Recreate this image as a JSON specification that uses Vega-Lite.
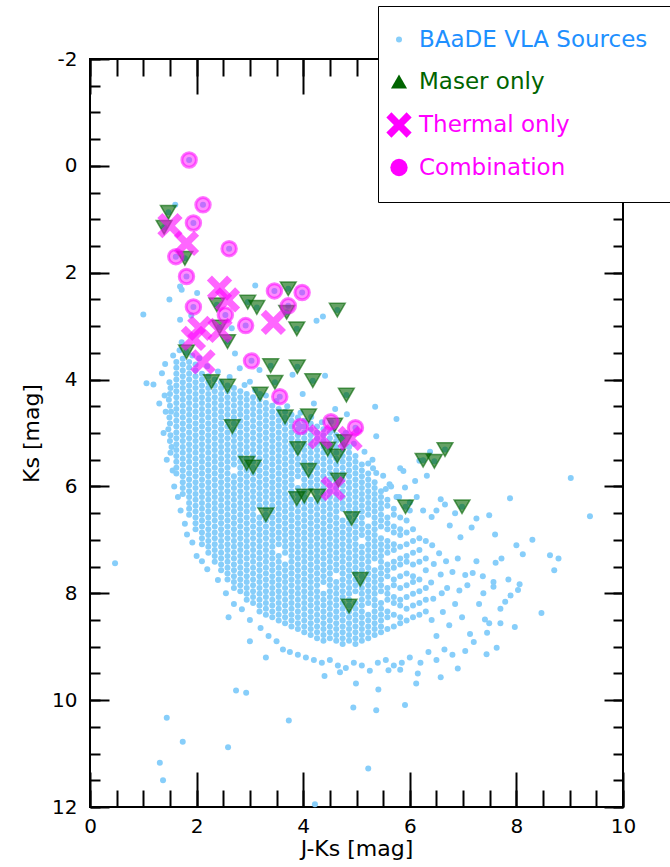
{
"$schema": "https://vega.github.io/schema/vega-lite/v6.json",
"width": 533,
"height": 748,
"autosize": "none",
"padding": {"left": 90, "top": 59, "right": 47, "bottom": 60},
"config": {
"view": {"stroke": "black", "strokeWidth": 2},
"axis": {"labelFont": "DejaVu Sans", "labelFontSize": 20, "labelColor": "black", "titleFont": "DejaVu Sans", "titleFontSize": 22, "titleFontWeight": "normal", "titleColor": "black", "tickColor": "black", "tickWidth": 2, "grid": false, "domain": false}
},
"datasets": {
"src": [
{"x":1.49,"y":4.05},{"x":1.51,"y":4.16},{"x":1.5,"y":4.27},{"x":1.48,"y":4.38},{"x":1.5,"y":4.49},{"x":1.52,"y":4.6},{"x":1.49,"y":4.71},{"x":1.5,"y":4.82},{"x":1.47,"y":4.93},{"x":1.51,"y":5.04},{"x":1.5,"y":5.15},{"x":1.53,"y":5.26},{"x":1.51,"y":5.37},
{"x":1.62,"y":3.67},{"x":1.62,"y":3.78},{"x":1.62,"y":3.89},{"x":1.62,"y":4},{"x":1.62,"y":4.11},{"x":1.62,"y":4.22},{"x":1.62,"y":4.33},{"x":1.62,"y":4.44},{"x":1.62,"y":4.55},{"x":1.62,"y":4.66},{"x":1.62,"y":4.77},{"x":1.62,"y":4.88},{"x":1.62,"y":4.99},{"x":1.62,"y":5.1},{"x":1.62,"y":5.21},{"x":1.62,"y":5.32},{"x":1.62,"y":5.43},{"x":1.62,"y":5.54},{"x":1.62,"y":5.65},{"x":1.62,"y":5.76},
{"x":1.74,"y":3.61},{"x":1.74,"y":3.72},{"x":1.74,"y":3.83},{"x":1.74,"y":3.94},{"x":1.74,"y":4.05},{"x":1.74,"y":4.16},{"x":1.74,"y":4.27},{"x":1.74,"y":4.38},{"x":1.74,"y":4.49},{"x":1.74,"y":4.6},{"x":1.74,"y":4.71},{"x":1.74,"y":4.82},{"x":1.74,"y":4.93},{"x":1.74,"y":5.04},{"x":1.74,"y":5.15},{"x":1.74,"y":5.26},{"x":1.74,"y":5.37},{"x":1.74,"y":5.48},{"x":1.74,"y":5.59},{"x":1.74,"y":5.7},{"x":1.74,"y":5.81},{"x":1.74,"y":5.92},{"x":1.74,"y":6.03},{"x":1.74,"y":6.14},
{"x":1.86,"y":3.67},{"x":1.86,"y":3.78},{"x":1.86,"y":3.89},{"x":1.86,"y":4},{"x":1.86,"y":4.11},{"x":1.86,"y":4.22},{"x":1.86,"y":4.33},{"x":1.86,"y":4.44},{"x":1.86,"y":4.55},{"x":1.86,"y":4.66},{"x":1.86,"y":4.77},{"x":1.86,"y":4.88},{"x":1.86,"y":4.99},{"x":1.86,"y":5.1},{"x":1.86,"y":5.21},{"x":1.86,"y":5.32},{"x":1.86,"y":5.43},{"x":1.86,"y":5.54},{"x":1.86,"y":5.65},{"x":1.86,"y":5.76},{"x":1.86,"y":5.87},{"x":1.86,"y":5.98},{"x":1.86,"y":6.09},{"x":1.86,"y":6.2},{"x":1.86,"y":6.31},{"x":1.86,"y":6.42},{"x":1.86,"y":6.53},
{"x":1.98,"y":3.72},{"x":1.98,"y":3.83},{"x":1.98,"y":3.94},{"x":1.98,"y":4.05},{"x":1.98,"y":4.16},{"x":1.98,"y":4.27},{"x":1.98,"y":4.38},{"x":1.98,"y":4.49},{"x":1.98,"y":4.6},{"x":1.98,"y":4.71},{"x":1.98,"y":4.82},{"x":1.98,"y":4.93},{"x":1.98,"y":5.04},{"x":1.98,"y":5.15},{"x":1.98,"y":5.26},{"x":1.98,"y":5.37},{"x":1.98,"y":5.48},{"x":1.98,"y":5.59},{"x":1.98,"y":5.7},{"x":1.98,"y":5.81},{"x":1.98,"y":5.92},{"x":1.98,"y":6.03},{"x":1.98,"y":6.14},{"x":1.98,"y":6.25},{"x":1.98,"y":6.36},{"x":1.98,"y":6.47},{"x":1.98,"y":6.58},{"x":1.98,"y":6.69},{"x":1.98,"y":6.8},
{"x":2.1,"y":3.89},{"x":2.1,"y":4},{"x":2.1,"y":4.11},{"x":2.1,"y":4.22},{"x":2.1,"y":4.33},{"x":2.1,"y":4.44},{"x":2.1,"y":4.55},{"x":2.1,"y":4.66},{"x":2.1,"y":4.77},{"x":2.1,"y":4.88},{"x":2.1,"y":4.99},{"x":2.1,"y":5.1},{"x":2.1,"y":5.21},{"x":2.1,"y":5.32},{"x":2.1,"y":5.43},{"x":2.1,"y":5.54},{"x":2.1,"y":5.65},{"x":2.1,"y":5.76},{"x":2.1,"y":5.87},{"x":2.1,"y":5.98},{"x":2.1,"y":6.09},{"x":2.1,"y":6.2},{"x":2.1,"y":6.31},{"x":2.1,"y":6.42},{"x":2.1,"y":6.53},{"x":2.1,"y":6.64},{"x":2.1,"y":6.75},{"x":2.1,"y":6.86},{"x":2.1,"y":6.97},{"x":2.1,"y":7.08},
{"x":2.22,"y":3.94},{"x":2.22,"y":4.05},{"x":2.22,"y":4.16},{"x":2.22,"y":4.27},{"x":2.22,"y":4.38},{"x":2.22,"y":4.49},{"x":2.22,"y":4.6},{"x":2.22,"y":4.71},{"x":2.22,"y":4.82},{"x":2.22,"y":4.93},{"x":2.22,"y":5.04},{"x":2.22,"y":5.15},{"x":2.22,"y":5.26},{"x":2.22,"y":5.37},{"x":2.22,"y":5.48},{"x":2.22,"y":5.59},{"x":2.22,"y":5.7},{"x":2.22,"y":5.81},{"x":2.22,"y":5.92},{"x":2.22,"y":6.03},{"x":2.22,"y":6.14},{"x":2.22,"y":6.25},{"x":2.22,"y":6.36},{"x":2.22,"y":6.47},{"x":2.22,"y":6.58},{"x":2.22,"y":6.69},{"x":2.22,"y":6.8},{"x":2.22,"y":6.91},{"x":2.22,"y":7.02},{"x":2.22,"y":7.13},{"x":2.22,"y":7.24},
{"x":2.34,"y":4},{"x":2.34,"y":4.11},{"x":2.34,"y":4.22},{"x":2.34,"y":4.33},{"x":2.34,"y":4.44},{"x":2.34,"y":4.55},{"x":2.34,"y":4.66},{"x":2.34,"y":4.77},{"x":2.34,"y":4.88},{"x":2.34,"y":4.99},{"x":2.34,"y":5.1},{"x":2.34,"y":5.21},{"x":2.34,"y":5.32},{"x":2.34,"y":5.43},{"x":2.34,"y":5.54},{"x":2.34,"y":5.65},{"x":2.34,"y":5.76},{"x":2.34,"y":5.87},{"x":2.34,"y":5.98},{"x":2.34,"y":6.09},{"x":2.34,"y":6.2},{"x":2.34,"y":6.31},{"x":2.34,"y":6.42},{"x":2.34,"y":6.53},{"x":2.34,"y":6.64},{"x":2.34,"y":6.75},{"x":2.34,"y":6.86},{"x":2.34,"y":6.97},{"x":2.34,"y":7.08},{"x":2.34,"y":7.19},{"x":2.34,"y":7.3},{"x":2.34,"y":7.41},
{"x":2.46,"y":4.05},{"x":2.46,"y":4.16},{"x":2.46,"y":4.27},{"x":2.46,"y":4.38},{"x":2.46,"y":4.49},{"x":2.46,"y":4.6},{"x":2.46,"y":4.71},{"x":2.46,"y":4.82},{"x":2.46,"y":4.93},{"x":2.46,"y":5.04},{"x":2.46,"y":5.15},{"x":2.46,"y":5.26},{"x":2.46,"y":5.37},{"x":2.46,"y":5.48},{"x":2.46,"y":5.59},{"x":2.46,"y":5.7},{"x":2.46,"y":5.81},{"x":2.46,"y":5.92},{"x":2.46,"y":6.03},{"x":2.46,"y":6.14},{"x":2.46,"y":6.25},{"x":2.46,"y":6.36},{"x":2.46,"y":6.47},{"x":2.46,"y":6.58},{"x":2.46,"y":6.69},{"x":2.46,"y":6.8},{"x":2.46,"y":6.91},{"x":2.46,"y":7.02},{"x":2.46,"y":7.13},{"x":2.46,"y":7.24},{"x":2.46,"y":7.35},{"x":2.46,"y":7.46},{"x":2.46,"y":7.57},
{"x":2.58,"y":4.11},{"x":2.58,"y":4.22},{"x":2.58,"y":4.33},{"x":2.58,"y":4.44},{"x":2.58,"y":4.55},{"x":2.58,"y":4.66},{"x":2.58,"y":4.77},{"x":2.58,"y":4.88},{"x":2.58,"y":4.99},{"x":2.58,"y":5.1},{"x":2.58,"y":5.21},{"x":2.58,"y":5.32},{"x":2.58,"y":5.43},{"x":2.58,"y":5.54},{"x":2.58,"y":5.65},{"x":2.58,"y":5.76},{"x":2.58,"y":5.87},{"x":2.58,"y":5.98},{"x":2.58,"y":6.09},{"x":2.58,"y":6.2},{"x":2.58,"y":6.31},{"x":2.58,"y":6.42},{"x":2.58,"y":6.53},{"x":2.58,"y":6.64},{"x":2.58,"y":6.75},{"x":2.58,"y":6.86},{"x":2.58,"y":6.97},{"x":2.58,"y":7.08},{"x":2.58,"y":7.19},{"x":2.58,"y":7.3},{"x":2.58,"y":7.41},{"x":2.58,"y":7.52},{"x":2.58,"y":7.63},{"x":2.58,"y":7.74},
{"x":2.7,"y":4.16},{"x":2.7,"y":4.27},{"x":2.7,"y":4.38},{"x":2.7,"y":4.49},{"x":2.7,"y":4.6},{"x":2.7,"y":4.71},{"x":2.7,"y":4.82},{"x":2.7,"y":4.93},{"x":2.7,"y":5.04},{"x":2.7,"y":5.15},{"x":2.7,"y":5.26},{"x":2.7,"y":5.37},{"x":2.7,"y":5.48},{"x":2.7,"y":5.59},{"x":2.7,"y":5.81},{"x":2.7,"y":5.92},{"x":2.7,"y":6.03},{"x":2.7,"y":6.14},{"x":2.7,"y":6.25},{"x":2.7,"y":6.36},{"x":2.7,"y":6.47},{"x":2.7,"y":6.58},{"x":2.7,"y":6.69},{"x":2.7,"y":6.8},{"x":2.7,"y":6.91},{"x":2.7,"y":7.02},{"x":2.7,"y":7.13},{"x":2.7,"y":7.24},{"x":2.7,"y":7.35},{"x":2.7,"y":7.46},{"x":2.7,"y":7.57},{"x":2.7,"y":7.68},{"x":2.7,"y":7.79},{"x":2.7,"y":7.9},
{"x":2.82,"y":4.22},{"x":2.82,"y":4.33},{"x":2.82,"y":4.44},{"x":2.82,"y":4.55},{"x":2.82,"y":4.66},{"x":2.82,"y":4.77},{"x":2.82,"y":4.88},{"x":2.82,"y":4.99},{"x":2.82,"y":5.1},{"x":2.82,"y":5.21},{"x":2.82,"y":5.32},{"x":2.82,"y":5.43},{"x":2.82,"y":5.54},{"x":2.82,"y":5.65},{"x":2.82,"y":5.76},{"x":2.82,"y":5.87},{"x":2.82,"y":5.98},{"x":2.82,"y":6.09},{"x":2.82,"y":6.2},{"x":2.82,"y":6.31},{"x":2.82,"y":6.42},{"x":2.82,"y":6.53},{"x":2.82,"y":6.64},{"x":2.82,"y":6.75},{"x":2.82,"y":6.86},{"x":2.82,"y":6.97},{"x":2.82,"y":7.08},{"x":2.82,"y":7.19},{"x":2.82,"y":7.3},{"x":2.82,"y":7.41},{"x":2.82,"y":7.52},{"x":2.82,"y":7.63},{"x":2.82,"y":7.74},{"x":2.82,"y":7.85},{"x":2.82,"y":7.96},
{"x":2.94,"y":4.27},{"x":2.94,"y":4.38},{"x":2.94,"y":4.49},{"x":2.94,"y":4.6},{"x":2.94,"y":4.71},{"x":2.94,"y":4.82},{"x":2.94,"y":4.93},{"x":2.94,"y":5.04},{"x":2.94,"y":5.15},{"x":2.94,"y":5.26},{"x":2.94,"y":5.37},{"x":2.94,"y":5.48},{"x":2.94,"y":5.59},{"x":2.94,"y":5.7},{"x":2.94,"y":5.81},{"x":2.94,"y":5.92},{"x":2.94,"y":6.03},{"x":2.94,"y":6.14},{"x":2.94,"y":6.25},{"x":2.94,"y":6.36},{"x":2.94,"y":6.47},{"x":2.94,"y":6.58},{"x":2.94,"y":6.69},{"x":2.94,"y":6.8},{"x":2.94,"y":6.91},{"x":2.94,"y":7.02},{"x":2.94,"y":7.13},{"x":2.94,"y":7.24},{"x":2.94,"y":7.35},{"x":2.94,"y":7.46},{"x":2.94,"y":7.57},{"x":2.94,"y":7.68},{"x":2.94,"y":7.79},{"x":2.94,"y":7.9},{"x":2.94,"y":8.01},{"x":2.94,"y":8.12},
{"x":3.06,"y":4.33},{"x":3.06,"y":4.44},{"x":3.06,"y":4.55},{"x":3.06,"y":4.66},{"x":3.06,"y":4.77},{"x":3.06,"y":4.88},{"x":3.06,"y":4.99},{"x":3.06,"y":5.1},{"x":3.06,"y":5.21},{"x":3.06,"y":5.32},{"x":3.06,"y":5.43},{"x":3.06,"y":5.54},{"x":3.06,"y":5.65},{"x":3.06,"y":5.76},{"x":3.06,"y":5.87},{"x":3.06,"y":5.98},{"x":3.06,"y":6.09},{"x":3.06,"y":6.2},{"x":3.06,"y":6.31},{"x":3.06,"y":6.42},{"x":3.06,"y":6.53},{"x":3.06,"y":6.64},{"x":3.06,"y":6.75},{"x":3.06,"y":6.86},{"x":3.06,"y":6.97},{"x":3.06,"y":7.08},{"x":3.06,"y":7.19},{"x":3.06,"y":7.3},{"x":3.06,"y":7.41},{"x":3.06,"y":7.52},{"x":3.06,"y":7.63},{"x":3.06,"y":7.74},{"x":3.06,"y":7.85},{"x":3.06,"y":7.96},{"x":3.06,"y":8.07},{"x":3.06,"y":8.18},
{"x":3.18,"y":4.38},{"x":3.18,"y":4.49},{"x":3.18,"y":4.6},{"x":3.18,"y":4.71},{"x":3.18,"y":4.82},{"x":3.18,"y":4.93},{"x":3.18,"y":5.04},{"x":3.18,"y":5.15},{"x":3.18,"y":5.26},{"x":3.18,"y":5.37},{"x":3.18,"y":5.48},{"x":3.18,"y":5.59},{"x":3.18,"y":5.7},{"x":3.18,"y":5.81},{"x":3.18,"y":5.92},{"x":3.18,"y":6.03},{"x":3.18,"y":6.14},{"x":3.18,"y":6.25},{"x":3.18,"y":6.36},{"x":3.18,"y":6.58},{"x":3.18,"y":6.69},{"x":3.18,"y":6.8},{"x":3.18,"y":6.91},{"x":3.18,"y":7.02},{"x":3.18,"y":7.13},{"x":3.18,"y":7.24},{"x":3.18,"y":7.35},{"x":3.18,"y":7.46},{"x":3.18,"y":7.57},{"x":3.18,"y":7.68},{"x":3.18,"y":7.79},{"x":3.18,"y":7.9},{"x":3.18,"y":8.01},{"x":3.18,"y":8.12},{"x":3.18,"y":8.23},{"x":3.18,"y":8.34},
{"x":3.3,"y":4.44},{"x":3.3,"y":4.55},{"x":3.3,"y":4.66},{"x":3.3,"y":4.77},{"x":3.3,"y":4.88},{"x":3.3,"y":4.99},{"x":3.3,"y":5.1},{"x":3.3,"y":5.21},{"x":3.3,"y":5.32},{"x":3.3,"y":5.43},{"x":3.3,"y":5.54},{"x":3.3,"y":5.65},{"x":3.3,"y":5.76},{"x":3.3,"y":5.87},{"x":3.3,"y":5.98},{"x":3.3,"y":6.09},{"x":3.3,"y":6.2},{"x":3.3,"y":6.31},{"x":3.3,"y":6.42},{"x":3.3,"y":6.53},{"x":3.3,"y":6.64},{"x":3.3,"y":6.75},{"x":3.3,"y":6.86},{"x":3.3,"y":6.97},{"x":3.3,"y":7.08},{"x":3.3,"y":7.19},{"x":3.3,"y":7.3},{"x":3.3,"y":7.41},{"x":3.3,"y":7.52},{"x":3.3,"y":7.63},{"x":3.3,"y":7.74},{"x":3.3,"y":7.85},{"x":3.3,"y":7.96},{"x":3.3,"y":8.07},{"x":3.3,"y":8.18},{"x":3.3,"y":8.29},{"x":3.3,"y":8.4},
{"x":3.42,"y":4.49},{"x":3.42,"y":4.6},{"x":3.42,"y":4.71},{"x":3.42,"y":4.82},{"x":3.42,"y":4.93},{"x":3.42,"y":5.04},{"x":3.42,"y":5.15},{"x":3.42,"y":5.26},{"x":3.42,"y":5.37},{"x":3.42,"y":5.48},{"x":3.42,"y":5.59},{"x":3.42,"y":5.7},{"x":3.42,"y":5.81},{"x":3.42,"y":5.92},{"x":3.42,"y":6.03},{"x":3.42,"y":6.14},{"x":3.42,"y":6.25},{"x":3.42,"y":6.36},{"x":3.42,"y":6.47},{"x":3.42,"y":6.58},{"x":3.42,"y":6.69},{"x":3.42,"y":6.8},{"x":3.42,"y":6.91},{"x":3.42,"y":7.02},{"x":3.42,"y":7.13},{"x":3.42,"y":7.24},{"x":3.42,"y":7.35},{"x":3.42,"y":7.46},{"x":3.42,"y":7.57},{"x":3.42,"y":7.68},{"x":3.42,"y":7.79},{"x":3.42,"y":7.9},{"x":3.42,"y":8.01},{"x":3.42,"y":8.12},{"x":3.42,"y":8.23},{"x":3.42,"y":8.34},{"x":3.42,"y":8.45},
{"x":3.54,"y":4.55},{"x":3.54,"y":4.66},{"x":3.54,"y":4.77},{"x":3.54,"y":4.88},{"x":3.54,"y":4.99},{"x":3.54,"y":5.1},{"x":3.54,"y":5.21},{"x":3.54,"y":5.32},{"x":3.54,"y":5.43},{"x":3.54,"y":5.54},{"x":3.54,"y":5.65},{"x":3.54,"y":5.76},{"x":3.54,"y":5.87},{"x":3.54,"y":5.98},{"x":3.54,"y":6.09},{"x":3.54,"y":6.2},{"x":3.54,"y":6.31},{"x":3.54,"y":6.42},{"x":3.54,"y":6.53},{"x":3.54,"y":6.64},{"x":3.54,"y":6.75},{"x":3.54,"y":6.86},{"x":3.54,"y":6.97},{"x":3.54,"y":7.08},{"x":3.54,"y":7.3},{"x":3.54,"y":7.41},{"x":3.54,"y":7.52},{"x":3.54,"y":7.63},{"x":3.54,"y":7.74},{"x":3.54,"y":7.85},{"x":3.54,"y":7.96},{"x":3.54,"y":8.07},{"x":3.54,"y":8.18},{"x":3.54,"y":8.29},{"x":3.54,"y":8.4},{"x":3.54,"y":8.51},
{"x":3.66,"y":4.6},{"x":3.66,"y":4.71},{"x":3.66,"y":4.82},{"x":3.66,"y":4.93},{"x":3.66,"y":5.04},{"x":3.66,"y":5.15},{"x":3.66,"y":5.26},{"x":3.66,"y":5.37},{"x":3.66,"y":5.48},{"x":3.66,"y":5.59},{"x":3.66,"y":5.7},{"x":3.66,"y":5.81},{"x":3.66,"y":5.92},{"x":3.66,"y":6.03},{"x":3.66,"y":6.14},{"x":3.66,"y":6.25},{"x":3.66,"y":6.36},{"x":3.66,"y":6.47},{"x":3.66,"y":6.58},{"x":3.66,"y":6.69},{"x":3.66,"y":6.8},{"x":3.66,"y":6.91},{"x":3.66,"y":7.02},{"x":3.66,"y":7.13},{"x":3.66,"y":7.24},{"x":3.66,"y":7.46},{"x":3.66,"y":7.57},{"x":3.66,"y":7.68},{"x":3.66,"y":7.79},{"x":3.66,"y":7.9},{"x":3.66,"y":8.01},{"x":3.66,"y":8.12},{"x":3.66,"y":8.23},{"x":3.66,"y":8.34},{"x":3.66,"y":8.45},{"x":3.66,"y":8.56},
{"x":3.78,"y":4.66},{"x":3.78,"y":4.77},{"x":3.78,"y":4.88},{"x":3.78,"y":4.99},{"x":3.78,"y":5.1},{"x":3.78,"y":5.21},{"x":3.78,"y":5.32},{"x":3.78,"y":5.43},{"x":3.78,"y":5.54},{"x":3.78,"y":5.65},{"x":3.78,"y":5.76},{"x":3.78,"y":5.87},{"x":3.78,"y":5.98},{"x":3.78,"y":6.09},{"x":3.78,"y":6.2},{"x":3.78,"y":6.31},{"x":3.78,"y":6.42},{"x":3.78,"y":6.53},{"x":3.78,"y":6.64},{"x":3.78,"y":6.75},{"x":3.78,"y":6.86},{"x":3.78,"y":6.97},{"x":3.78,"y":7.08},{"x":3.78,"y":7.19},{"x":3.78,"y":7.3},{"x":3.78,"y":7.41},{"x":3.78,"y":7.52},{"x":3.78,"y":7.63},{"x":3.78,"y":7.74},{"x":3.78,"y":7.85},{"x":3.78,"y":7.96},{"x":3.78,"y":8.07},{"x":3.78,"y":8.18},{"x":3.78,"y":8.29},{"x":3.78,"y":8.4},{"x":3.78,"y":8.51},{"x":3.78,"y":8.62},
{"x":3.9,"y":4.71},{"x":3.9,"y":4.82},{"x":3.9,"y":4.93},{"x":3.9,"y":5.04},{"x":3.9,"y":5.15},{"x":3.9,"y":5.26},{"x":3.9,"y":5.37},{"x":3.9,"y":5.48},{"x":3.9,"y":5.59},{"x":3.9,"y":5.7},{"x":3.9,"y":5.81},{"x":3.9,"y":6.03},{"x":3.9,"y":6.14},{"x":3.9,"y":6.25},{"x":3.9,"y":6.36},{"x":3.9,"y":6.47},{"x":3.9,"y":6.58},{"x":3.9,"y":6.69},{"x":3.9,"y":6.8},{"x":3.9,"y":6.91},{"x":3.9,"y":7.02},{"x":3.9,"y":7.13},{"x":3.9,"y":7.24},{"x":3.9,"y":7.35},{"x":3.9,"y":7.46},{"x":3.9,"y":7.57},{"x":3.9,"y":7.68},{"x":3.9,"y":7.79},{"x":3.9,"y":7.9},{"x":3.9,"y":8.01},{"x":3.9,"y":8.12},{"x":3.9,"y":8.23},{"x":3.9,"y":8.34},{"x":3.9,"y":8.45},{"x":3.9,"y":8.56},{"x":3.9,"y":8.67},
{"x":4.02,"y":4.77},{"x":4.02,"y":4.88},{"x":4.02,"y":4.99},{"x":4.02,"y":5.1},{"x":4.02,"y":5.21},{"x":4.02,"y":5.32},{"x":4.02,"y":5.43},{"x":4.02,"y":5.54},{"x":4.02,"y":5.65},{"x":4.02,"y":5.76},{"x":4.02,"y":5.87},{"x":4.02,"y":5.98},{"x":4.02,"y":6.09},{"x":4.02,"y":6.2},{"x":4.02,"y":6.31},{"x":4.02,"y":6.42},{"x":4.02,"y":6.53},{"x":4.02,"y":6.64},{"x":4.02,"y":6.75},{"x":4.02,"y":6.86},{"x":4.02,"y":6.97},{"x":4.02,"y":7.08},{"x":4.02,"y":7.19},{"x":4.02,"y":7.3},{"x":4.02,"y":7.41},{"x":4.02,"y":7.52},{"x":4.02,"y":7.63},{"x":4.02,"y":7.74},{"x":4.02,"y":7.85},{"x":4.02,"y":7.96},{"x":4.02,"y":8.07},{"x":4.02,"y":8.18},{"x":4.02,"y":8.29},{"x":4.02,"y":8.4},{"x":4.02,"y":8.51},{"x":4.02,"y":8.62},{"x":4.02,"y":8.73},
{"x":4.14,"y":4.82},{"x":4.14,"y":4.93},{"x":4.14,"y":5.04},{"x":4.14,"y":5.15},{"x":4.14,"y":5.26},{"x":4.14,"y":5.37},{"x":4.14,"y":5.48},{"x":4.14,"y":5.59},{"x":4.14,"y":5.7},{"x":4.14,"y":5.81},{"x":4.14,"y":5.92},{"x":4.14,"y":6.03},{"x":4.14,"y":6.25},{"x":4.14,"y":6.36},{"x":4.14,"y":6.47},{"x":4.14,"y":6.58},{"x":4.14,"y":6.69},{"x":4.14,"y":6.8},{"x":4.14,"y":6.91},{"x":4.14,"y":7.02},{"x":4.14,"y":7.13},{"x":4.14,"y":7.24},{"x":4.14,"y":7.35},{"x":4.14,"y":7.46},{"x":4.14,"y":7.57},{"x":4.14,"y":7.68},{"x":4.14,"y":7.79},{"x":4.14,"y":7.9},{"x":4.14,"y":8.01},{"x":4.14,"y":8.12},{"x":4.14,"y":8.23},{"x":4.14,"y":8.34},{"x":4.14,"y":8.45},{"x":4.14,"y":8.56},{"x":4.14,"y":8.67},{"x":4.14,"y":8.78},
{"x":4.26,"y":4.88},{"x":4.26,"y":4.99},{"x":4.26,"y":5.1},{"x":4.26,"y":5.21},{"x":4.26,"y":5.32},{"x":4.26,"y":5.43},{"x":4.26,"y":5.54},{"x":4.26,"y":5.65},{"x":4.26,"y":5.76},{"x":4.26,"y":5.87},{"x":4.26,"y":5.98},{"x":4.26,"y":6.09},{"x":4.26,"y":6.2},{"x":4.26,"y":6.31},{"x":4.26,"y":6.42},{"x":4.26,"y":6.53},{"x":4.26,"y":6.64},{"x":4.26,"y":6.75},{"x":4.26,"y":6.86},{"x":4.26,"y":6.97},{"x":4.26,"y":7.08},{"x":4.26,"y":7.19},{"x":4.26,"y":7.3},{"x":4.26,"y":7.41},{"x":4.26,"y":7.52},{"x":4.26,"y":7.63},{"x":4.26,"y":7.74},{"x":4.26,"y":7.85},{"x":4.26,"y":7.96},{"x":4.26,"y":8.07},{"x":4.26,"y":8.18},{"x":4.26,"y":8.29},{"x":4.26,"y":8.4},{"x":4.26,"y":8.51},{"x":4.26,"y":8.62},{"x":4.26,"y":8.73},{"x":4.26,"y":8.84},
{"x":4.38,"y":4.93},{"x":4.38,"y":5.04},{"x":4.38,"y":5.15},{"x":4.38,"y":5.26},{"x":4.38,"y":5.37},{"x":4.38,"y":5.48},{"x":4.38,"y":5.59},{"x":4.38,"y":5.7},{"x":4.38,"y":5.81},{"x":4.38,"y":5.92},{"x":4.38,"y":6.03},{"x":4.38,"y":6.14},{"x":4.38,"y":6.25},{"x":4.38,"y":6.36},{"x":4.38,"y":6.47},{"x":4.38,"y":6.58},{"x":4.38,"y":6.69},{"x":4.38,"y":6.8},{"x":4.38,"y":6.91},{"x":4.38,"y":7.02},{"x":4.38,"y":7.13},{"x":4.38,"y":7.24},{"x":4.38,"y":7.35},{"x":4.38,"y":7.46},{"x":4.38,"y":7.57},{"x":4.38,"y":7.68},{"x":4.38,"y":7.79},{"x":4.38,"y":8.01},{"x":4.38,"y":8.12},{"x":4.38,"y":8.23},{"x":4.38,"y":8.34},{"x":4.38,"y":8.45},{"x":4.38,"y":8.56},{"x":4.38,"y":8.67},{"x":4.38,"y":8.78},{"x":4.38,"y":8.89},
{"x":4.5,"y":4.99},{"x":4.5,"y":5.1},{"x":4.5,"y":5.21},{"x":4.5,"y":5.32},{"x":4.5,"y":5.43},{"x":4.5,"y":5.54},{"x":4.5,"y":5.65},{"x":4.5,"y":5.76},{"x":4.5,"y":5.87},{"x":4.5,"y":5.98},{"x":4.5,"y":6.09},{"x":4.5,"y":6.2},{"x":4.5,"y":6.31},{"x":4.5,"y":6.42},{"x":4.5,"y":6.53},{"x":4.5,"y":6.64},{"x":4.5,"y":6.75},{"x":4.5,"y":6.86},{"x":4.5,"y":6.97},{"x":4.5,"y":7.08},{"x":4.5,"y":7.19},{"x":4.5,"y":7.3},{"x":4.5,"y":7.41},{"x":4.5,"y":7.52},{"x":4.5,"y":7.63},{"x":4.5,"y":7.74},{"x":4.5,"y":7.85},{"x":4.5,"y":7.96},{"x":4.5,"y":8.07},{"x":4.5,"y":8.18},{"x":4.5,"y":8.29},{"x":4.5,"y":8.4},{"x":4.5,"y":8.51},{"x":4.5,"y":8.62},{"x":4.5,"y":8.73},{"x":4.5,"y":8.84},
{"x":4.62,"y":5.04},{"x":4.62,"y":5.15},{"x":4.62,"y":5.26},{"x":4.62,"y":5.37},{"x":4.62,"y":5.48},{"x":4.62,"y":5.59},{"x":4.62,"y":5.7},{"x":4.62,"y":5.81},{"x":4.62,"y":5.92},{"x":4.62,"y":6.03},{"x":4.62,"y":6.14},{"x":4.62,"y":6.25},{"x":4.62,"y":6.36},{"x":4.62,"y":6.47},{"x":4.62,"y":6.58},{"x":4.62,"y":6.69},{"x":4.62,"y":6.8},{"x":4.62,"y":6.91},{"x":4.62,"y":7.02},{"x":4.62,"y":7.13},{"x":4.62,"y":7.24},{"x":4.62,"y":7.35},{"x":4.62,"y":7.46},{"x":4.62,"y":7.57},{"x":4.62,"y":7.79},{"x":4.62,"y":7.9},{"x":4.62,"y":8.01},{"x":4.62,"y":8.12},{"x":4.62,"y":8.23},{"x":4.62,"y":8.34},{"x":4.62,"y":8.45},{"x":4.62,"y":8.56},{"x":4.62,"y":8.67},{"x":4.62,"y":8.78},{"x":4.62,"y":8.89},
{"x":4.74,"y":5.1},{"x":4.74,"y":5.21},{"x":4.74,"y":5.32},{"x":4.74,"y":5.43},{"x":4.74,"y":5.54},{"x":4.74,"y":5.65},{"x":4.74,"y":5.76},{"x":4.74,"y":5.87},{"x":4.74,"y":5.98},{"x":4.74,"y":6.09},{"x":4.74,"y":6.2},{"x":4.74,"y":6.31},{"x":4.74,"y":6.42},{"x":4.74,"y":6.64},{"x":4.74,"y":6.75},{"x":4.74,"y":6.86},{"x":4.74,"y":6.97},{"x":4.74,"y":7.08},{"x":4.74,"y":7.19},{"x":4.74,"y":7.3},{"x":4.74,"y":7.41},{"x":4.74,"y":7.52},{"x":4.74,"y":7.63},{"x":4.74,"y":7.74},{"x":4.74,"y":7.85},{"x":4.74,"y":7.96},{"x":4.74,"y":8.07},{"x":4.74,"y":8.18},{"x":4.74,"y":8.29},{"x":4.74,"y":8.4},{"x":4.74,"y":8.51},{"x":4.74,"y":8.62},{"x":4.74,"y":8.73},{"x":4.74,"y":8.84},{"x":4.74,"y":8.95},
{"x":4.86,"y":5.26},{"x":4.86,"y":5.37},{"x":4.86,"y":5.48},{"x":4.86,"y":5.59},{"x":4.86,"y":5.7},{"x":4.86,"y":5.81},{"x":4.86,"y":5.92},{"x":4.86,"y":6.03},{"x":4.86,"y":6.14},{"x":4.86,"y":6.25},{"x":4.86,"y":6.36},{"x":4.86,"y":6.47},{"x":4.86,"y":6.58},{"x":4.86,"y":6.69},{"x":4.86,"y":6.8},{"x":4.86,"y":6.91},{"x":4.86,"y":7.02},{"x":4.86,"y":7.13},{"x":4.86,"y":7.24},{"x":4.86,"y":7.35},{"x":4.86,"y":7.46},{"x":4.86,"y":7.57},{"x":4.86,"y":7.68},{"x":4.86,"y":7.79},{"x":4.86,"y":7.9},{"x":4.86,"y":8.01},{"x":4.86,"y":8.12},{"x":4.86,"y":8.23},{"x":4.86,"y":8.34},{"x":4.86,"y":8.45},{"x":4.86,"y":8.56},{"x":4.86,"y":8.67},{"x":4.86,"y":8.78},{"x":4.86,"y":8.89},
{"x":4.98,"y":5.43},{"x":4.98,"y":5.54},{"x":4.98,"y":5.65},{"x":4.98,"y":5.76},{"x":4.98,"y":5.87},{"x":4.98,"y":5.98},{"x":4.98,"y":6.09},{"x":4.98,"y":6.2},{"x":4.98,"y":6.31},{"x":4.98,"y":6.42},{"x":4.98,"y":6.53},{"x":4.98,"y":6.64},{"x":4.98,"y":6.75},{"x":4.98,"y":6.86},{"x":4.98,"y":6.97},{"x":4.98,"y":7.08},{"x":4.98,"y":7.19},{"x":4.98,"y":7.3},{"x":4.98,"y":7.41},{"x":4.98,"y":7.52},{"x":4.98,"y":7.63},{"x":4.98,"y":7.74},{"x":4.98,"y":7.85},{"x":4.98,"y":7.96},{"x":4.98,"y":8.18},{"x":4.98,"y":8.29},{"x":4.98,"y":8.4},{"x":4.98,"y":8.51},{"x":4.98,"y":8.62},{"x":4.98,"y":8.73},{"x":4.98,"y":8.84},{"x":4.98,"y":8.95},
{"x":5.1,"y":5.59},{"x":5.1,"y":5.7},{"x":5.1,"y":5.81},{"x":5.1,"y":5.92},{"x":5.1,"y":6.03},{"x":5.1,"y":6.14},{"x":5.1,"y":6.25},{"x":5.1,"y":6.36},{"x":5.1,"y":6.47},{"x":5.1,"y":6.58},{"x":5.1,"y":6.69},{"x":5.1,"y":6.8},{"x":5.1,"y":6.91},{"x":5.1,"y":7.13},{"x":5.1,"y":7.24},{"x":5.1,"y":7.35},{"x":5.1,"y":7.46},{"x":5.1,"y":7.57},{"x":5.1,"y":7.68},{"x":5.1,"y":7.79},{"x":5.1,"y":7.9},{"x":5.1,"y":8.01},{"x":5.1,"y":8.12},{"x":5.1,"y":8.23},{"x":5.1,"y":8.34},{"x":5.1,"y":8.45},{"x":5.1,"y":8.56},{"x":5.1,"y":8.67},{"x":5.1,"y":8.78},{"x":5.1,"y":8.89},
{"x":5.22,"y":5.76},{"x":5.22,"y":5.87},{"x":5.22,"y":5.98},{"x":5.22,"y":6.09},{"x":5.22,"y":6.2},{"x":5.22,"y":6.31},{"x":5.22,"y":6.42},{"x":5.22,"y":6.53},{"x":5.22,"y":6.75},{"x":5.22,"y":6.86},{"x":5.22,"y":6.97},{"x":5.22,"y":7.08},{"x":5.22,"y":7.19},{"x":5.22,"y":7.3},{"x":5.22,"y":7.41},{"x":5.22,"y":7.52},{"x":5.22,"y":7.63},{"x":5.22,"y":7.74},{"x":5.22,"y":7.85},{"x":5.22,"y":7.96},{"x":5.22,"y":8.07},{"x":5.22,"y":8.18},{"x":5.22,"y":8.4},{"x":5.22,"y":8.51},{"x":5.22,"y":8.62},{"x":5.22,"y":8.73},{"x":5.22,"y":8.84},
{"x":5.34,"y":5.92},{"x":5.34,"y":6.03},{"x":5.34,"y":6.14},{"x":5.34,"y":6.25},{"x":5.34,"y":6.36},{"x":5.34,"y":6.47},{"x":5.34,"y":6.58},{"x":5.34,"y":6.69},{"x":5.34,"y":6.8},{"x":5.34,"y":6.91},{"x":5.34,"y":7.02},{"x":5.34,"y":7.13},{"x":5.34,"y":7.24},{"x":5.34,"y":7.35},{"x":5.34,"y":7.57},{"x":5.34,"y":7.68},{"x":5.34,"y":7.79},{"x":5.34,"y":7.9},{"x":5.34,"y":8.01},{"x":5.34,"y":8.12},{"x":5.34,"y":8.23},{"x":5.34,"y":8.34},{"x":5.34,"y":8.45},{"x":5.34,"y":8.56},{"x":5.34,"y":8.67},{"x":5.34,"y":8.78},
{"x":5.46,"y":6.09},{"x":5.46,"y":6.2},{"x":5.46,"y":6.31},{"x":5.46,"y":6.42},{"x":5.46,"y":6.53},{"x":5.46,"y":6.64},{"x":5.46,"y":6.75},{"x":5.46,"y":6.97},{"x":5.46,"y":7.08},{"x":5.46,"y":7.19},{"x":5.46,"y":7.3},{"x":5.46,"y":7.41},{"x":5.46,"y":7.52},{"x":5.46,"y":7.63},{"x":5.46,"y":7.74},{"x":5.46,"y":7.85},{"x":5.46,"y":7.96},{"x":5.46,"y":8.18},{"x":5.46,"y":8.29},{"x":5.46,"y":8.4},{"x":5.46,"y":8.51},{"x":5.46,"y":8.62},{"x":5.46,"y":8.73},
{"x":5.58,"y":6.25},{"x":5.58,"y":6.36},{"x":5.58,"y":6.58},{"x":5.58,"y":6.69},{"x":5.58,"y":6.8},{"x":5.58,"y":7.02},{"x":5.58,"y":7.13},{"x":5.58,"y":7.24},{"x":5.58,"y":7.46},{"x":5.58,"y":7.57},{"x":5.58,"y":7.68},{"x":5.58,"y":7.9},{"x":5.58,"y":8.01},{"x":5.58,"y":8.12},{"x":5.58,"y":8.34},{"x":5.58,"y":8.45},{"x":5.58,"y":8.67},
{"x":5.7,"y":6.42},{"x":5.7,"y":6.53},{"x":5.7,"y":6.75},{"x":5.7,"y":6.86},{"x":5.7,"y":7.08},{"x":5.7,"y":7.19},{"x":5.7,"y":7.41},{"x":5.7,"y":7.52},{"x":5.7,"y":7.74},{"x":5.7,"y":7.85},{"x":5.7,"y":8.07},{"x":5.7,"y":8.18},{"x":5.7,"y":8.4},{"x":5.7,"y":8.62},
{"x":5.82,"y":6.58},{"x":5.82,"y":6.8},{"x":5.82,"y":6.91},{"x":5.82,"y":7.13},{"x":5.82,"y":7.35},{"x":5.82,"y":7.46},{"x":5.82,"y":7.68},{"x":5.82,"y":7.9},{"x":5.82,"y":8.12},{"x":5.82,"y":8.23},{"x":5.82,"y":8.45},{"x":5.82,"y":8.56},
{"x":5.94,"y":6.64},{"x":5.94,"y":6.86},{"x":5.94,"y":7.08},{"x":5.94,"y":7.3},{"x":5.94,"y":7.41},{"x":5.94,"y":7.63},{"x":5.94,"y":7.85},{"x":5.94,"y":8.07},{"x":5.94,"y":8.29},{"x":5.94,"y":8.51},
{"x":6.06,"y":6.8},{"x":6.06,"y":7.02},{"x":6.06,"y":7.24},{"x":6.06,"y":7.46},{"x":6.06,"y":7.68},{"x":6.06,"y":7.79},{"x":6.06,"y":8.01},{"x":6.06,"y":8.23},{"x":6.06,"y":8.45},
{"x":6.18,"y":6.97},{"x":6.18,"y":7.19},{"x":6.18,"y":7.41},{"x":6.18,"y":7.74},{"x":6.18,"y":7.96},{"x":6.18,"y":8.18},{"x":6.18,"y":8.4},
{"x":6.3,"y":7.02},{"x":6.3,"y":7.35},{"x":6.3,"y":7.57},{"x":6.3,"y":7.9},{"x":6.3,"y":8.12},{"x":6.3,"y":8.34},
{"x":6.42,"y":7.1},{"x":6.45,"y":7.45},{"x":6.4,"y":7.8},{"x":6.44,"y":8.1},{"x":6.41,"y":8.5},{"x":6.5,"y":8.8},{"x":6.55,"y":7.25},{"x":6.58,"y":7.65},{"x":6.6,"y":8},{"x":6.62,"y":8.35},{"x":6.68,"y":7.4},{"x":6.7,"y":7.9},{"x":6.74,"y":8.6},{"x":6.8,"y":7.6},{"x":6.85,"y":8.2},{"x":6.9,"y":7.35},{"x":6.93,"y":7.95},{"x":6.98,"y":8.45},{"x":7.04,"y":7.66},{"x":7.08,"y":7.85},{"x":7.04,"y":9.08},{"x":7.13,"y":8.76},{"x":7.18,"y":7.62},{"x":7.2,"y":8.91},{"x":7.25,"y":7.4},{"x":7.3,"y":8.2},{"x":7.37,"y":7.68},{"x":7.38,"y":8},{"x":7.41,"y":8.49},{"x":7.45,"y":8.74},{"x":7.44,"y":9.14},{"x":7.49,"y":8.56},{"x":7.57,"y":7.79},{"x":7.57,"y":7.88},{"x":7.61,"y":7.43},{"x":7.63,"y":9.02},{"x":7.7,"y":8.29},{"x":7.7,"y":8.56},{"x":7.72,"y":7.35},{"x":7.79,"y":8.16},{"x":7.85,"y":7.74},{"x":7.89,"y":8.04},{"x":7.97,"y":8.63},{"x":8.03,"y":7.94},{"x":8.06,"y":7.83},{"x":8.12,"y":7.27},{"x":8.47,"y":8.37},{"x":8.63,"y":7.29},{"x":8.79,"y":7.35},{"x":8.71,"y":7.57},{"x":7.25,"y":6.6},{"x":7.49,"y":6.54},{"x":7.16,"y":6.77},{"x":6.41,"y":6.57},{"x":6.75,"y":6.73},{"x":7.88,"y":6.22},{"x":6.58,"y":6.24},{"x":6.66,"y":6.34},{"x":6.13,"y":6.2},{"x":6.32,"y":5.8},{"x":6.18,"y":5.52},{"x":6.38,"y":5.35},{"x":6.1,"y":5.9},{"x":5.91,"y":6.02},{"x":5.88,"y":5.71},{"x":5.82,"y":5.66},{"x":5.62,"y":5.96},{"x":5.37,"y":5.75},{"x":5.31,"y":5.66},{"x":5.22,"y":5.57},{"x":5.37,"y":5.06},{"x":4.82,"y":4.65},{"x":5.75,"y":4.74},{"x":5.35,"y":4.51},{"x":9.38,"y":6.56},{"x":9.02,"y":5.84},{"x":8.3,"y":7},{"x":8,"y":7.1},{"x":7.6,"y":6.9},{"x":6.95,"y":6.95},{"x":6.85,"y":6.5},{"x":6.5,"y":6.45},{"x":6.25,"y":6.45},{"x":6,"y":6.3},{"x":5.75,"y":6.2},{"x":5.55,"y":6.05},
{"x":2.05,"y":3.6},{"x":2.2,"y":3.75},{"x":2.4,"y":3.85},{"x":2.62,"y":3.95},{"x":2.9,"y":4.1},{"x":3.1,"y":4.2},{"x":3.3,"y":4.3},{"x":3.5,"y":4.4},{"x":3.7,"y":4.5},{"x":3.95,"y":4.62},{"x":4.15,"y":4.7},{"x":4.35,"y":4.8},{"x":4.55,"y":4.95},{"x":4.75,"y":5.05},{"x":4.95,"y":5.2},{"x":5.15,"y":5.35},{"x":5.3,"y":5.5},{"x":5.5,"y":5.8},{"x":5.65,"y":6},{"x":5.8,"y":6.2},{"x":6,"y":6.45},{"x":2.72,"y":3.51},{"x":2.81,"y":3.79},{"x":3,"y":4.04},{"x":3.18,"y":3.82},{"x":3.8,"y":3.91},{"x":4.41,"y":3.93},{"x":3.99,"y":4.27},{"x":4.6,"y":4.55},{"x":4.2,"y":4.45},{"x":5,"y":4.95},{"x":4.8,"y":5},
{"x":1.41,"y":3.71},{"x":1.35,"y":3.88},{"x":1.06,"y":4.07},{"x":1.19,"y":4.09},{"x":1.4,"y":4.3},{"x":1.42,"y":4.6},{"x":1.38,"y":5},{"x":1.44,"y":5.5},{"x":1.55,"y":5.7},{"x":1.58,"y":6},{"x":1.65,"y":6.2},{"x":1.7,"y":6.45},{"x":1.78,"y":6.7},{"x":1.82,"y":6.9},{"x":1.92,"y":7.05},{"x":2,"y":7.3},{"x":2.1,"y":7.4},{"x":1.3,"y":4.45},{"x":1.56,"y":3.55},{"x":1.68,"y":3.45},{"x":1.8,"y":3.5},{"x":1.92,"y":3.55},{"x":1.72,"y":3.3},
{"x":2.2,"y":7.55},{"x":2.4,"y":7.75},{"x":2.55,"y":8},{"x":2.7,"y":8.2},{"x":2.85,"y":8.3},{"x":3,"y":8.5},{"x":3.2,"y":8.65},{"x":3.35,"y":8.8},{"x":3.5,"y":8.9},{"x":3.62,"y":9.05},{"x":3.75,"y":9.1},{"x":3.9,"y":9.15},{"x":4.05,"y":9.2},{"x":4.2,"y":9.25},{"x":4.35,"y":9.3},{"x":4.5,"y":9.25},{"x":4.65,"y":9.35},{"x":4.8,"y":9.4},{"x":4.95,"y":9.3},{"x":5.1,"y":9.35},{"x":5.25,"y":9.45},{"x":5.4,"y":9.3},{"x":5.55,"y":9.25},{"x":5.7,"y":9.35},{"x":5.85,"y":9.3},{"x":6,"y":9.2},{"x":6.2,"y":9.3},{"x":6.35,"y":9.1},{"x":6.5,"y":9.25},{"x":6.65,"y":9.05},{"x":6.8,"y":9.15},{"x":6.9,"y":9.41},{"x":6.58,"y":9.57},{"x":6.15,"y":9.5},{"x":5.82,"y":9.43},{"x":5.6,"y":9.44},{"x":5.41,"y":9.8},{"x":5.91,"y":10.09},{"x":5.37,"y":10.19},{"x":4.94,"y":10.14},{"x":4.99,"y":9.69},{"x":5.22,"y":11.28},{"x":2.74,"y":9.82},{"x":2.93,"y":9.86},{"x":3.73,"y":10.38},{"x":1.44,"y":10.33},{"x":1.74,"y":10.78},{"x":1.31,"y":11.17},{"x":1.37,"y":11.5},{"x":2.59,"y":10.88},{"x":4.22,"y":11.95},{"x":0.47,"y":7.44},{"x":3.3,"y":9.2},{"x":4.4,"y":9.55},{"x":3,"y":8.9},{"x":2.6,"y":8.45},{"x":6.12,"y":9.69},{"x":4.69,"y":9.48},
{"x":1,"y":2.78},{"x":1.6,"y":0.73},{"x":1.69,"y":2.26},{"x":1.72,"y":2.32},{"x":2.01,"y":2.38},{"x":1.49,"y":2.5},{"x":1.9,"y":2.8},{"x":1.69,"y":2.88},{"x":2.66,"y":3.04},{"x":3.1,"y":2.24},{"x":4.25,"y":2.9},{"x":4.37,"y":2.82}
],
"centers": [
{"x":1.86,"y":-0.11},{"x":2.12,"y":0.73},{"x":1.94,"y":1.07},{"x":2.61,"y":1.55},{"x":1.61,"y":1.7},{"x":1.81,"y":2.07},{"x":3.46,"y":2.34},{"x":3.98,"y":2.37},{"x":3.72,"y":2.62},{"x":1.94,"y":2.64},{"x":2.54,"y":2.79},{"x":2.92,"y":2.99},{"x":3.03,"y":3.65},{"x":3.56,"y":4.32},{"x":3.95,"y":4.88},{"x":4.52,"y":4.79},{"x":4.98,"y":4.9},
{"x":1.47,"y":0.87},{"x":1.39,"y":1.15},{"x":1.78,"y":1.73},{"x":3.72,"y":2.3},{"x":2.38,"y":2.6},{"x":2.96,"y":2.55},{"x":3.13,"y":2.65},{"x":3.69,"y":2.74},{"x":3.88,"y":3.05},{"x":4.64,"y":2.7},{"x":2.43,"y":3.02},{"x":2.58,"y":3.29},{"x":1.81,"y":3.48},{"x":3.39,"y":3.74},{"x":3.89,"y":3.76},{"x":3.47,"y":4.05},{"x":4.18,"y":4.02},{"x":4.81,"y":4.29},{"x":3.19,"y":4.27},{"x":6.25,"y":5.51},{"x":6.46,"y":5.53},{"x":6.66,"y":5.31},{"x":5.92,"y":6.38},{"x":6.98,"y":6.38}
],
"maser": [
{"x":1.47,"y":0.87},{"x":1.39,"y":1.15},{"x":1.78,"y":1.73},{"x":3.72,"y":2.3},{"x":2.38,"y":2.6},{"x":2.96,"y":2.55},{"x":3.13,"y":2.65},{"x":3.69,"y":2.74},{"x":3.88,"y":3.05},{"x":4.64,"y":2.7},{"x":2.43,"y":3.02},{"x":2.58,"y":3.29},{"x":1.81,"y":3.48},{"x":3.39,"y":3.74},{"x":3.89,"y":3.76},{"x":2.28,"y":4.04},{"x":2.58,"y":4.12},{"x":3.47,"y":4.05},{"x":4.18,"y":4.02},{"x":4.81,"y":4.29},{"x":3.19,"y":4.27},{"x":3.66,"y":4.7},{"x":4.1,"y":4.68},{"x":4.59,"y":4.85},{"x":3.9,"y":5.29},{"x":4.46,"y":5.3},{"x":4.64,"y":5.43},{"x":4.77,"y":5.16},{"x":2.94,"y":5.57},{"x":3.06,"y":5.64},{"x":4.1,"y":5.7},{"x":6.25,"y":5.51},{"x":6.46,"y":5.53},{"x":6.66,"y":5.31},{"x":3.88,"y":6.23},{"x":4.02,"y":6.18},{"x":4.27,"y":6.18},{"x":4.66,"y":5.88},{"x":3.3,"y":6.53},{"x":4.91,"y":6.6},{"x":5.92,"y":6.38},{"x":6.98,"y":6.38},{"x":2.67,"y":4.88},{"x":5.07,"y":7.74},{"x":4.86,"y":8.24}
],
"thermal": [
{"x":1.5,"y":1.12},{"x":1.81,"y":1.45},{"x":2.43,"y":2.29},{"x":2.58,"y":2.51},{"x":2.06,"y":3.04},{"x":2.44,"y":3.08},{"x":1.94,"y":3.23},{"x":2.12,"y":3.67},{"x":3.44,"y":2.93},{"x":4.32,"y":5.07},{"x":4.88,"y":5.1},{"x":4.56,"y":6.04}
],
"combo": [
{"x":1.86,"y":-0.11},{"x":2.12,"y":0.73},{"x":1.94,"y":1.07},{"x":2.61,"y":1.55},{"x":1.61,"y":1.7},{"x":1.81,"y":2.07},{"x":3.46,"y":2.34},{"x":3.98,"y":2.37},{"x":3.72,"y":2.62},{"x":1.94,"y":2.64},{"x":2.54,"y":2.79},{"x":2.92,"y":2.99},{"x":3.03,"y":3.65},{"x":3.56,"y":4.32},{"x":3.95,"y":4.88},{"x":4.52,"y":4.79},{"x":4.98,"y":4.9}
]
},
"layer": [
{
"data": {"name": "src"},
"mark": {"type": "point", "filled": true, "opacity": 1, "strokeWidth": 0},
"encoding": {
"x": {"field": "x", "type": "quantitative", "scale": {"domain": [0, 10], "nice": false, "zero": false},
"axis": {"orient": "bottom", "values": [0, 2, 4, 6, 8, 10], "ticks": false, "labelPadding": 9, "labelExpr": "'' + datum.value", "labelFlush": false, "labelOverlap": false, "title": "J-Ks [mag]", "titlePadding": 2}},
"y": {"field": "y", "type": "quantitative", "scale": {"domain": [-2, 12], "reverse": true, "nice": false, "zero": false},
"axis": {"orient": "left", "values": [-2, 0, 2, 4, 6, 8, 10, 12], "ticks": false, "labelPadding": 13, "labelExpr": "'' + datum.value", "labelFlush": false, "labelOverlap": false, "title": "Ks [mag]", "titlePadding": 8}},
"color": {"datum": "BAaDE VLA Sources", "type": "nominal",
"scale": {"domain": ["BAaDE VLA Sources", "Maser only", "Thermal only", "Combination"], "range": ["#87CEFA", "#006400", "#FF00FF", "#FF00FF"]},
"legend": {"orient": "none", "legendX": 288, "legendY": -53, "title": null, "padding": 22, "rowPadding": 18,
"labelFont": "DejaVu Sans", "labelFontSize": 23, "labelLimit": 400, "labelOffset": 7, "symbolOffset": -14, "symbolOpacity": 1, "symbolStrokeWidth": 0,
"fillColor": "white", "strokeColor": "black",
"labelColor": {"expr": "datum.value === 'BAaDE VLA Sources' ? '#1E90FF' : datum.value === 'Maser only' ? '#006400' : '#FF00FF'"}}},
"shape": {"datum": "BAaDE VLA Sources", "type": "nominal",
"scale": {"domain": ["BAaDE VLA Sources", "Maser only", "Thermal only", "Combination"], "range": ["circle", "triangle-up", "M-0.6,-1L0,-0.4L0.6,-1L1,-0.6L0.4,0L1,0.6L0.6,1L0,0.4L-0.6,1L-1,0.6L-0.4,0L-1,-0.6Z", "circle"]},
"legend": {"orient": "none", "legendX": 288, "legendY": -53, "title": null, "padding": 22, "rowPadding": 18,
"labelFont": "DejaVu Sans", "labelFontSize": 23, "labelLimit": 400, "labelOffset": 7, "symbolOffset": -14, "symbolOpacity": 1, "symbolStrokeWidth": 0,
"fillColor": "white", "strokeColor": "black",
"labelColor": {"expr": "datum.value === 'BAaDE VLA Sources' ? '#1E90FF' : datum.value === 'Maser only' ? '#006400' : '#FF00FF'"}}},
"size": {"datum": "BAaDE VLA Sources", "type": "nominal",
"scale": {"type": "ordinal", "domain": ["BAaDE VLA Sources", "Maser only", "Thermal only", "Combination"], "range": [36, 260, 640, 300]},
"legend": {"orient": "none", "legendX": 288, "legendY": -53, "title": null, "padding": 22, "rowPadding": 18,
"labelFont": "DejaVu Sans", "labelFontSize": 23, "labelLimit": 400, "labelOffset": 7, "symbolOffset": -14, "symbolOpacity": 1, "symbolStrokeWidth": 0,
"fillColor": "white", "strokeColor": "black",
"labelColor": {"expr": "datum.value === 'BAaDE VLA Sources' ? '#1E90FF' : datum.value === 'Maser only' ? '#006400' : '#FF00FF'"}}}
}
},
{
"data": {"name": "centers"},
"mark": {"type": "circle", "size": 36, "opacity": 1, "color": "#87CEFA"},
"encoding": {
"x": {"field": "x", "type": "quantitative", "axis": {"orient": "bottom", "values": [0,0.5,1,1.5,2,2.5,3,3.5,4,4.5,5,5.5,6,6.5,7,7.5,8,8.5,9,9.5,10], "labels": false, "tickSize": -17, "title": null}},
"y": {"field": "y", "type": "quantitative", "axis": {"orient": "left", "values": [-2,-1.5,-1,-0.5,0,0.5,1,1.5,2,2.5,3,3.5,4,4.5,5,5.5,6,6.5,7,7.5,8,8.5,9,9.5,10,10.5,11,11.5,12], "labels": false, "tickSize": -10, "title": null}}
}
},
{
"data": {"name": "maser"},
"mark": {"type": "point", "shape": "triangle-down", "size": 250, "filled": true, "fill": "#006400", "fillOpacity": 0.6, "stroke": "#006400", "strokeOpacity": 0.6, "strokeWidth": 1.5, "opacity": 1},
"encoding": {
"x": {"field": "x", "type": "quantitative", "axis": {"orient": "bottom", "values": [0, 2, 4, 6, 8, 10], "labels": false, "tickSize": -35, "title": null}},
"y": {"field": "y", "type": "quantitative", "axis": {"orient": "left", "values": [-2, 0, 2, 4, 6, 8, 10, 12], "labels": false, "tickSize": -19, "title": null}}
}
},
{
"data": {"name": "thermal"},
"mark": {"type": "point", "shape": "M-0.6,-1L0,-0.4L0.6,-1L1,-0.6L0.4,0L1,0.6L0.6,1L0,0.4L-0.6,1L-1,0.6L-0.4,0L-1,-0.6Z", "size": 640, "filled": true, "fill": "#FF00FF", "opacity": 0.6, "strokeWidth": 0},
"encoding": {
"x": {"field": "x", "type": "quantitative", "axis": {"orient": "top", "values": [0,0.5,1,1.5,2,2.5,3,3.5,4,4.5,5,5.5,6,6.5,7,7.5,8,8.5,9,9.5,10], "labels": false, "tickSize": -17, "title": null}},
"y": {"field": "y", "type": "quantitative", "axis": {"orient": "right", "values": [-2,-1.5,-1,-0.5,0,0.5,1,1.5,2,2.5,3,3.5,4,4.5,5,5.5,6,6.5,7,7.5,8,8.5,9,9.5,10,10.5,11,11.5,12], "labels": false, "tickSize": -10, "title": null}}
}
},
{
"data": {"name": "combo"},
"mark": {"type": "point", "shape": "circle", "size": 210, "filled": true, "fill": "#FF00FF", "fillOpacity": 0.45, "stroke": "#FF00FF", "strokeOpacity": 0.55, "strokeWidth": 3, "opacity": 1},
"encoding": {
"x": {"field": "x", "type": "quantitative", "axis": {"orient": "top", "values": [0, 2, 4, 6, 8, 10], "labels": false, "tickSize": -35, "title": null}},
"y": {"field": "y", "type": "quantitative", "axis": {"orient": "right", "values": [-2, 0, 2, 4, 6, 8, 10, 12], "labels": false, "tickSize": -19, "title": null}}
}
}
],
"resolve": {"axis": {"x": "independent", "y": "independent"}}
}
